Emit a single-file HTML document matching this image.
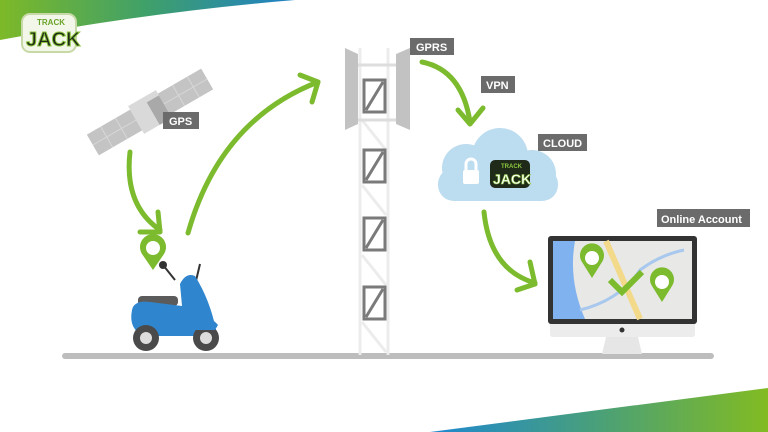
<!DOCTYPE html>
<html><head><meta charset="utf-8"><style>
html,body{margin:0;padding:0;background:#fff}
svg{display:block}
text{font-family:"Liberation Sans",sans-serif;font-weight:bold;fill:#fff}
</style></head><body>
<svg width="768" height="432" viewBox="0 0 768 432" xmlns="http://www.w3.org/2000/svg">
<defs>
<linearGradient id="tg" x1="0" x2="1" y1="0" y2="0"><stop offset="0" stop-color="#7db928"/><stop offset="0.5" stop-color="#3fa06a"/><stop offset="1" stop-color="#1f80c8"/></linearGradient>
<linearGradient id="bg" x1="0" x2="1" y1="0" y2="0"><stop offset="0" stop-color="#1e88d0"/><stop offset="0.5" stop-color="#4aa078"/><stop offset="1" stop-color="#82bb22"/></linearGradient>
</defs>
<path d="M0 0 H295 Q150 12 0 40 Z" fill="url(#tg)"/>
<path d="M430 432 L768 388 V432 Z" fill="url(#bg)"/>
<!-- logo -->
<rect x="22" y="14" width="54" height="38" rx="8" fill="#f3f7ea" stroke="#c7d9a6" stroke-width="2"/>
<text x="37" y="25" font-size="8" style="fill:#6aa329">TRACK</text>
<text x="26" y="46" font-size="20" style="fill:#1f2a18;stroke:#8cc63f;stroke-width:1">JACK</text>
<!-- ground -->
<rect x="62" y="353" width="652" height="6" rx="3" fill="#bdbdbd"/>
<!-- tower -->
<g fill="none" stroke="#ececec" stroke-width="3">
<line x1="360" y1="48" x2="360" y2="355"/><line x1="388" y1="48" x2="388" y2="355"/>
<line x1="362" y1="120" x2="386" y2="150"/><line x1="362" y1="185" x2="386" y2="215"/><line x1="362" y1="255" x2="386" y2="285"/><line x1="362" y1="322" x2="386" y2="352"/>
</g>
<path d="M345 48 L358 54 V124 L345 130 Z" fill="#c2c2c2"/>
<path d="M410 48 L396 54 V124 L410 130 Z" fill="#c2c2c2"/>
<line x1="358" y1="65" x2="396" y2="65" stroke="#ddd" stroke-width="3"/>
<line x1="358" y1="120" x2="396" y2="120" stroke="#ddd" stroke-width="3"/>
<g fill="#fff" stroke="#7a7a7a" stroke-width="3">
<rect x="364" y="80" width="21" height="32"/><rect x="364" y="150" width="21" height="32"/><rect x="364" y="218" width="21" height="32"/><rect x="364" y="287" width="21" height="32"/>
</g>
<g stroke="#7a7a7a" stroke-width="3"><line x1="366" y1="110" x2="383" y2="82"/><line x1="366" y1="180" x2="383" y2="152"/><line x1="366" y1="248" x2="383" y2="220"/><line x1="366" y1="317" x2="383" y2="289"/></g>
<!-- satellite -->
<g transform="rotate(-30 150 112)">
<rect x="84" y="100" width="50" height="24" fill="#c4c4c4"/>
<rect x="166" y="100" width="50" height="24" fill="#c4c4c4"/>
<g stroke="#d8d8d8" stroke-width="1">
<line x1="84" y1="112" x2="134" y2="112"/><line x1="166" y1="112" x2="216" y2="112"/>
<line x1="100" y1="100" x2="100" y2="124"/><line x1="117" y1="100" x2="117" y2="124"/>
<line x1="183" y1="100" x2="183" y2="124"/><line x1="200" y1="100" x2="200" y2="124"/>
</g>
<rect x="134" y="96" width="32" height="32" fill="#d9d9d9"/>
<rect x="152" y="102" width="14" height="26" fill="#a9a9a9"/>
</g>
<!-- labels -->
<g fill="#6b6b6b">
<rect x="163" y="112" width="36" height="17"/><rect x="410" y="38" width="44" height="17"/><rect x="481" y="76" width="34" height="17"/><rect x="538" y="134" width="49" height="17"/><rect x="657" y="209" width="93" height="18"/>
</g>
<text x="169" y="125" font-size="11">GPS</text>
<text x="416" y="51" font-size="11">GPRS</text>
<text x="486" y="89" font-size="11">VPN</text>
<text x="543" y="147" font-size="11">CLOUD</text>
<text x="661" y="223" font-size="11">Online Account</text>
<!-- arrows -->
<g fill="none" stroke="#7cbb2e" stroke-width="5" stroke-linecap="round" stroke-linejoin="round">
<path d="M130 152 Q124 205 160 230"/><path d="M140 232 L160 232 L158 212"/>
<path d="M188 233 Q220 120 318 82"/><path d="M300 75 L318 82 L312 102"/>
<path d="M422 62 Q462 70 470 122"/><path d="M458 110 L470 124 L483 108"/>
<path d="M484 212 Q490 270 535 283"/><path d="M530 262 L535 284 L517 290"/>
</g>
<!-- cloud -->
<g fill="#bcdcf0">
<circle cx="466" cy="168" r="24"/><circle cx="500" cy="156" r="28"/><circle cx="532" cy="174" r="24"/>
<rect x="438" y="168" width="120" height="33" rx="16"/>
</g>
<rect x="463" y="170" width="16" height="14" rx="2" fill="#fff"/>
<path d="M466 170 V164 a5 5 0 0 1 10 0 V170" fill="none" stroke="#fff" stroke-width="3"/>
<rect x="490" y="160" width="40" height="28" rx="5" fill="#1f2a18"/>
<text x="501" y="168" font-size="6" style="fill:#8cc63f">TRACK</text>
<text x="493" y="184" font-size="14" style="fill:#fff;stroke:#8cc63f;stroke-width:.6">JACK</text>
<!-- monitor -->
<rect x="548" y="236" width="149" height="88" rx="3" fill="#333"/>
<rect x="553" y="241" width="139" height="78" fill="#e8e8e6"/>
<path d="M553 241 H575 Q568 280 585 319 H553 Z" fill="#7fb2ee"/>
<path d="M606 241 L640 319" stroke="#f3d98a" stroke-width="6"/>
<path d="M580 310 Q620 300 640 270 Q660 255 684 250" fill="none" stroke="#a8c8ee" stroke-width="3"/>
<path d="M550 324 H695 V334 Q695 337 692 337 H553 Q550 337 550 334 Z" fill="#ececec"/>
<circle cx="622" cy="330" r="2.5" fill="#333"/>
<path d="M606 337 H638 L642 354 H602 Z" fill="#e6e6e6"/>
<g fill="#7cbb2e"><path d="M592 278 L582 262 a12 12 0 1 1 20 0 Z"/><path d="M662 302 L652 286 a12 12 0 1 1 20 0 Z"/></g>
<circle cx="592" cy="258" r="7" fill="#fff"/><circle cx="662" cy="282" r="7" fill="#fff"/>
<path d="M610 280 L622 292 L642 272" fill="none" stroke="#7cbb2e" stroke-width="6"/>
<!-- scooter pin -->
<path d="M153 270 L142 254 a13 13 0 1 1 22 0 Z" fill="#7cbb2e"/>
<circle cx="153" cy="248" r="7" fill="#fff"/>
<circle cx="163" cy="265" r="4" fill="#333"/>
<!-- scooter -->
<path d="M163 265 L175 280" stroke="#333" stroke-width="2"/>
<path d="M200 264 L195 285" stroke="#333" stroke-width="2"/>
<rect x="138" y="296" width="40" height="10" rx="4" fill="#5b5b5b"/>
<path d="M132 310 Q134 300 150 302 L182 306 L180 284 Q186 272 195 276 Q210 300 216 330 L200 336 L145 336 Q128 330 132 310 Z" fill="#2f86cf"/>
<circle cx="146" cy="338" r="13" fill="#4a4a4a"/><circle cx="146" cy="338" r="6" fill="#ddd"/>
<circle cx="206" cy="338" r="13" fill="#4a4a4a"/><circle cx="206" cy="338" r="6" fill="#ddd"/>
<path d="M190 320 Q205 310 218 325 L215 330 H192 Z" fill="#2f86cf"/>
</svg>
</body></html>
